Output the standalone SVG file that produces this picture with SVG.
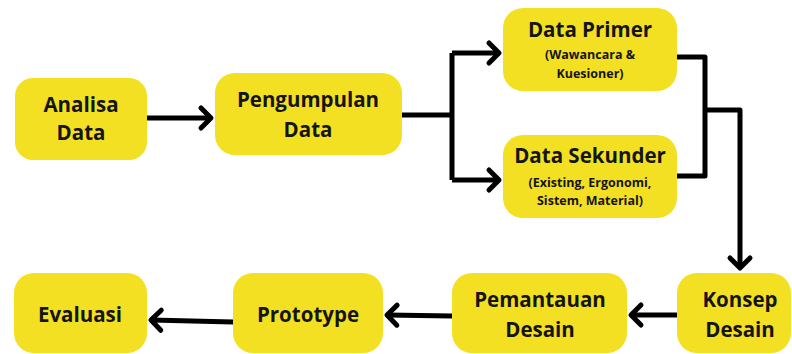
<svg xmlns="http://www.w3.org/2000/svg" width="792" height="354" viewBox="0 0 792 354">
<style>
.box{fill:#F4E023}
.t{font-family:"Open Sans","Liberation Sans",sans-serif;font-weight:700;font-size:20.5px;fill:#151515;text-anchor:middle}
.s{font-family:"Open Sans","Liberation Sans",sans-serif;font-weight:700;font-size:12.5px;fill:#151515;text-anchor:middle}
.c{fill:none;stroke:#000;stroke-width:5;stroke-linejoin:round;stroke-linecap:butt}
</style>
<defs>
<marker id="ah" markerUnits="userSpaceOnUse" viewBox="-14 -14 28 28" markerWidth="28" markerHeight="28" refX="0" refY="0" orient="auto" overflow="visible">
<path d="M-10,-10 L0,0 L-10,10" fill="none" stroke="#000" stroke-width="5" stroke-linecap="round" stroke-linejoin="round"/>
</marker>
</defs>
<rect width="792" height="354" fill="#fff"/>
<g id="connectors">
<path class="c" d="M147,118 L211,118" marker-end="url(#ah)"/>
<path class="c" d="M402,115 L452,115 M452,53 L452,180"/>
<path class="c" d="M452,53 L499,53" marker-end="url(#ah)"/>
<path class="c" d="M452,180 L499,180" marker-end="url(#ah)"/>
<path class="c" d="M677,57 L705,57 L705,176 L677,176"/>
<path class="c" d="M705,110 L740,110 L740,268" marker-end="url(#ah)"/>
<path class="c" d="M677,315 L631,315" marker-end="url(#ah)"/>
<path class="c" d="M452,316 L387,315" marker-end="url(#ah)"/>
<path class="c" d="M233,322 L151,320" marker-end="url(#ah)"/>
</g>
<g id="analisa">
<rect class="box" x="15" y="78" width="132" height="82" rx="18"/>
<text class="t" x="81" y="112">Analisa</text>
<text class="t" x="81" y="140">Data</text>
</g>
<g id="pengumpulan">
<rect class="box" x="215" y="73" width="187" height="82" rx="20"/>
<text class="t" x="308" y="107">Pengumpulan</text>
<text class="t" x="308" y="137">Data</text>
</g>
<g id="primer">
<rect class="box" x="503" y="8" width="174" height="83" rx="20"/>
<text class="t" x="590" y="37">Data Primer</text>
<text class="s" x="590" y="59">(Wawancara &amp;</text>
<text class="s" x="590" y="78">Kuesioner)</text>
</g>
<g id="sekunder">
<rect class="box" x="503" y="135" width="174" height="83" rx="20"/>
<text class="t" x="590" y="163">Data Sekunder</text>
<text class="s" x="590" y="187">(Existing, Ergonomi,</text>
<text class="s" x="590" y="205">Sistem, Material)</text>
</g>
<g id="konsep">
<rect class="box" x="677" y="273" width="114" height="80" rx="20"/>
<text class="t" x="740" y="307">Konsep</text>
<text class="t" x="740" y="337">Desain</text>
</g>
<g id="pemantauan">
<rect class="box" x="452" y="273" width="175" height="80" rx="20"/>
<text class="t" x="540" y="307">Pemantauan</text>
<text class="t" x="540" y="337">Desain</text>
</g>
<g id="prototype">
<rect class="box" x="233" y="273" width="150" height="80" rx="20"/>
<text class="t" x="308" y="322">Prototype</text>
</g>
<g id="evaluasi">
<rect class="box" x="14" y="273" width="133" height="80" rx="20"/>
<text class="t" x="80" y="322">Evaluasi</text>
</g>
</svg>
